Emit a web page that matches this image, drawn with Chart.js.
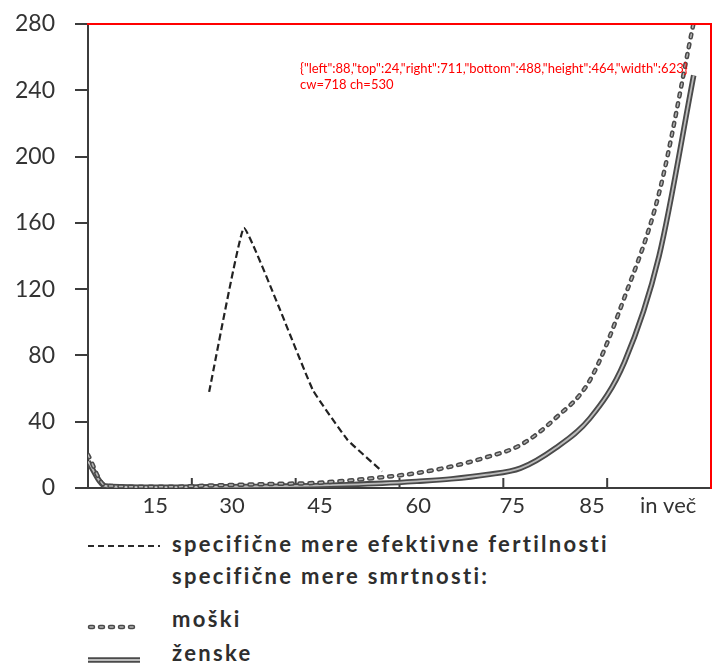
<!DOCTYPE html>
<html>
<head>
<meta charset="utf-8">
<script src="https://cdn.jsdelivr.net/npm/chart.js@4.4.1/dist/chart.umd.min.js"></script>
<style>
  body { margin:0; background:#fff; width:718px; height:671px; overflow:hidden; position:relative; font-family: Lato, sans-serif; color:#2e2e2e; }
  #wrap { position:absolute; left:0; top:0; width:718px; height:530px; }
  .leg { position:absolute; left:172px; font-size:22px; font-weight:bold; letter-spacing:2.3px; line-height:24px; white-space:nowrap; }
  #samples { position:absolute; left:0; top:530px; }
  #dbg { position:absolute; left:300px; top:60px; font-size:13px; color:red; width:400px; }
</style>
</head>
<body>
<div id="wrap"><canvas id="chart"></canvas></div>
<div id="dbg"></div>
<svg id="samples" width="718" height="141">
  <line x1="88" y1="16" x2="160" y2="16" stroke="#2a2a2a" stroke-width="2" stroke-dasharray="6 4"/>
  <line x1="90" y1="97" x2="138" y2="97" stroke="#4a4a4a" stroke-width="4.5" stroke-linecap="round" stroke-dasharray="3 7"/>
  <line x1="90" y1="97" x2="138" y2="97" stroke="#b5b5b5" stroke-width="1.5" stroke-linecap="round" stroke-dasharray="3 7"/>
  <line x1="88" y1="130" x2="140" y2="130" stroke="#4a4a4a" stroke-width="5.5"/>
  <line x1="88" y1="130" x2="140" y2="130" stroke="#bbbbbb" stroke-width="1.8"/>
</svg>
<div class="leg" style="top:532px">specifične mere efektivne fertilnosti</div>
<div class="leg" style="top:564px">specifične mere smrtnosti:</div>
<div class="leg" style="top:607px">moški</div>
<div class="leg" style="top:641px">ženske</div>
<script>
// ages (midpoints of age groups)
const ages = [0, 2.5, 7.5, 12.5, 17.5, 22.5, 27.5, 32.5, 37.5, 42.5, 47.5, 52.5, 57.5, 62.5, 67.5, 72.5, 77.5, 82.5, 87.5];
const maleDeaths = [20, 1.5, 0.8, 0.8, 1.5, 2, 2.5, 3, 4.5, 6.5, 9, 13, 18.5, 26, 42, 65, 115, 178, 281];
const femaleDeaths = [16, 1.2, 0.5, 0.5, 0.7, 0.9, 1.1, 1.4, 2, 2.8, 4, 5.5, 8, 12, 24, 42, 76, 140, 249];

const fertAges = [17.5, 22.5, 27.5, 32.5, 37.5, 42.5];
const fertility = [58, 157, 110, 59, 29, 10];

// printed age labels and where they sit on the axis
const xLabels = ['15', '30', '45', '60', '75', '85', 'in več'];
const xLabelAt = [9.7, 20.8, 33.5, 47.7, 61.3, 72.8, 83.8];
const xMarks = [15, 30, 45, 60, 75];
const yTicks = [0, 40, 80, 120, 160, 200, 240, 280];

const axisColor = '#3c3c3c';
const pts = (xs, ys) => xs.map((x, i) => ({ x: x, y: ys[i] }));

// upward tick marks on the age axis + frame on top and right
const marks = {
  id: 'marks',
  beforeDatasetsDraw(chart) {
    const { ctx, scales: { x, y } } = chart;
    ctx.save();
    ctx.fillStyle = axisColor;
    xMarks.forEach(v => {
      const px = x.getPixelForValue(v);
      ctx.fillRect(px - 1, y.bottom - 10, 2, 10);
    });
    ctx.restore();
  },
  afterDraw(chart) {
    const { ctx, chartArea: a } = chart;
    ctx.save();
    ctx.fillStyle = 'red';
    ctx.fillRect(a.left - 1, a.top - 1, a.right - a.left + 2, 2);
    ctx.fillRect(a.right - 1, a.top - 1, 2, a.bottom - a.top + 2);
    ctx.restore();
    document.getElementById('dbg').textContent = JSON.stringify(a) + ' cw=' + chart.width + ' ch=' + chart.height;
  }
};

new Chart(document.getElementById('chart'), {
  type: 'line',
  data: {
    datasets: [
      { data: pts(fertAges, fertility), borderColor: '#222', borderWidth: 2.2, borderDash: [7, 3.5], tension: 0.1, order: 0 },
      { data: pts(ages, maleDeaths), borderColor: '#b5b5b5', borderWidth: 1.5, borderDash: [3, 7], borderCapStyle: 'round', cubicInterpolationMode: 'monotone', order: 1 },
      { data: pts(ages, maleDeaths), borderColor: '#4a4a4a', borderWidth: 4.5, borderDash: [3, 7], borderCapStyle: 'round', cubicInterpolationMode: 'monotone', order: 2 },
      { data: pts(ages, femaleDeaths), borderColor: '#bbbbbb', borderWidth: 1.8, cubicInterpolationMode: 'monotone', order: 3 },
      { data: pts(ages, femaleDeaths), borderColor: '#4a4a4a', borderWidth: 5.5, cubicInterpolationMode: 'monotone', order: 4 }
    ]
  },
  options: {
    responsive: true,
    maintainAspectRatio: false,
    animation: false,
    layout: { padding: { top: 24, right: 7, left: 0, bottom: 0 } },
    elements: { point: { radius: 0 } },
    plugins: { legend: { display: false }, tooltip: { enabled: false } },
    scales: {
      x: {
        type: 'linear', min: 0, max: 90,
        afterBuildTicks: s => { s.ticks = xLabelAt.map(v => ({ value: v })); },
        afterFit: s => { s.height = 42; s.paddingLeft = 0; s.paddingRight = 0; },
        grid: { display: false },
        border: { display: true, color: axisColor, width: 2 },
        ticks: { autoSkip: false, maxRotation: 0, padding: -3, color: '#333', font: { family: 'Lato', size: 22 },
          callback: (v, i) => xLabels[i] }
      },
      y: {
        min: 0, max: 280,
        afterBuildTicks: s => { s.ticks = yTicks.map(v => ({ value: v })); },
        afterFit: s => { s.width = 88; s.paddingTop = 0; s.paddingBottom = 0; },
        grid: { drawOnChartArea: false, drawTicks: true, tickLength: 13, color: axisColor, lineWidth: 2 },
        border: { display: true, color: axisColor, width: 2 },
        ticks: { padding: 20, color: '#333', font: { family: 'Lato', size: 23 } }
      }
    }
  },
  plugins: [marks]
});
</script>
</body>
</html>
